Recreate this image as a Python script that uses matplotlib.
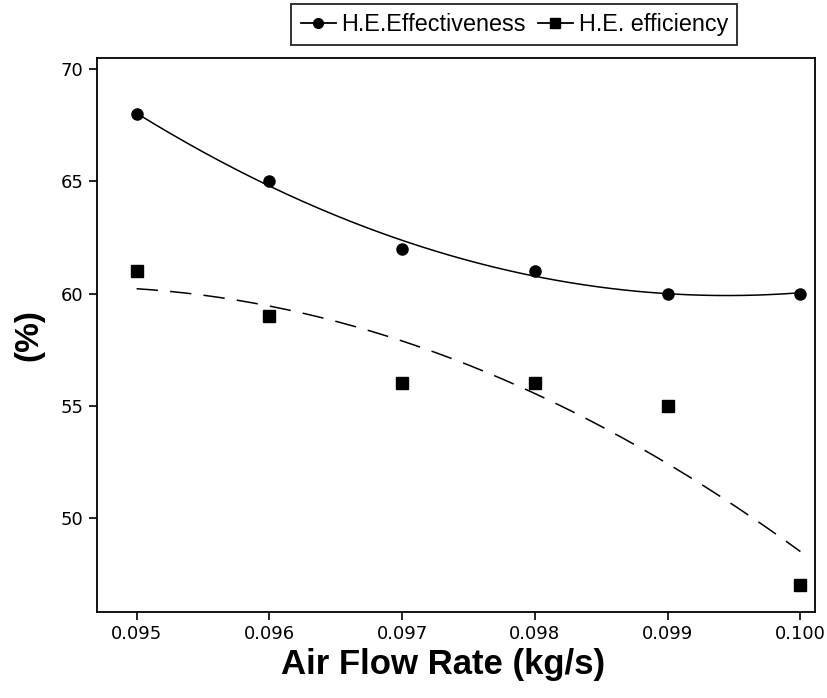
import numpy as np
import matplotlib
matplotlib.use("Agg")
from matplotlib import pyplot as plt

# data
flow = [0.095, 0.096, 0.097, 0.098, 0.099, 0.100]
effectiveness = [68, 65, 62, 61, 60, 60]
efficiency = [61, 59, 56, 56, 55, 47]
xticks = [0.095, 0.096, 0.097, 0.098, 0.099, 0.100]
yticks = [50, 55, 60, 65, 70]

fig = plt.figure(figsize=(8.27, 6.98), dpi=100)
ax = fig.add_axes([0.117, 0.123, 0.8685, 0.794])

# quadratic trend lines through each series
xs = np.linspace(flow[0], flow[-1], 200)
u = np.array(flow) - flow[0]
p_eff = np.polyfit(u, effectiveness, 2)
p_ec = np.polyfit(u, efficiency, 2)

ax.plot(xs, np.polyval(p_eff, xs - flow[0]), color="black", lw=1.1)
ax.plot(xs, np.polyval(p_ec, xs - flow[0]), color="black", lw=1.1,
        dashes=(14, 8))
ax.plot(flow, effectiveness, "o", color="black", ms=8)
ax.plot(flow, efficiency, "s", color="black", ms=8.5)

# legend proxies
h1, = ax.plot([], [], "-o", color="black", ms=7, lw=1.3)
h2, = ax.plot([], [], "-s", color="black", ms=7, lw=1.3)
leg = fig.legend([h1, h2], ["H.E.Effectiveness", "H.E. efficiency"],
                 loc="upper center", bbox_to_anchor=(0.622, 0.998), ncol=2,
                 frameon=True, fancybox=False, edgecolor="black",
                 handlelength=1.5, handletextpad=0.25, columnspacing=0.5,
                 borderpad=0.4, borderaxespad=0.1,
                 prop={"family": "Liberation Sans", "size": 16.8})
leg.get_frame().set_linewidth(1.4)

ax.set_xlim(0.0947, 0.10011)
ax.set_ylim(45.8, 70.5)
ax.set_xticks(xticks)
ax.set_xticklabels(["%.3f" % v for v in xticks])
ax.set_yticks(yticks)
ax.tick_params(direction="out", length=6, width=1.2, labelsize=13,
               top=False, right=False)
for lab in ax.get_xticklabels() + ax.get_yticklabels():
    lab.set_family("DejaVu Sans")
for s in ax.spines.values():
    s.set_linewidth(1.3)

ax.set_xlabel("Air Flow Rate (kg/s)", fontsize=25, fontweight="bold",
              family="Liberation Sans", labelpad=0)
ax.xaxis.set_label_coords(0.482, -0.065)
ax.set_ylabel("(%)", fontsize=24, fontweight="bold",
              family="Liberation Sans", labelpad=12)

fig.savefig("out.png", dpi=100)
